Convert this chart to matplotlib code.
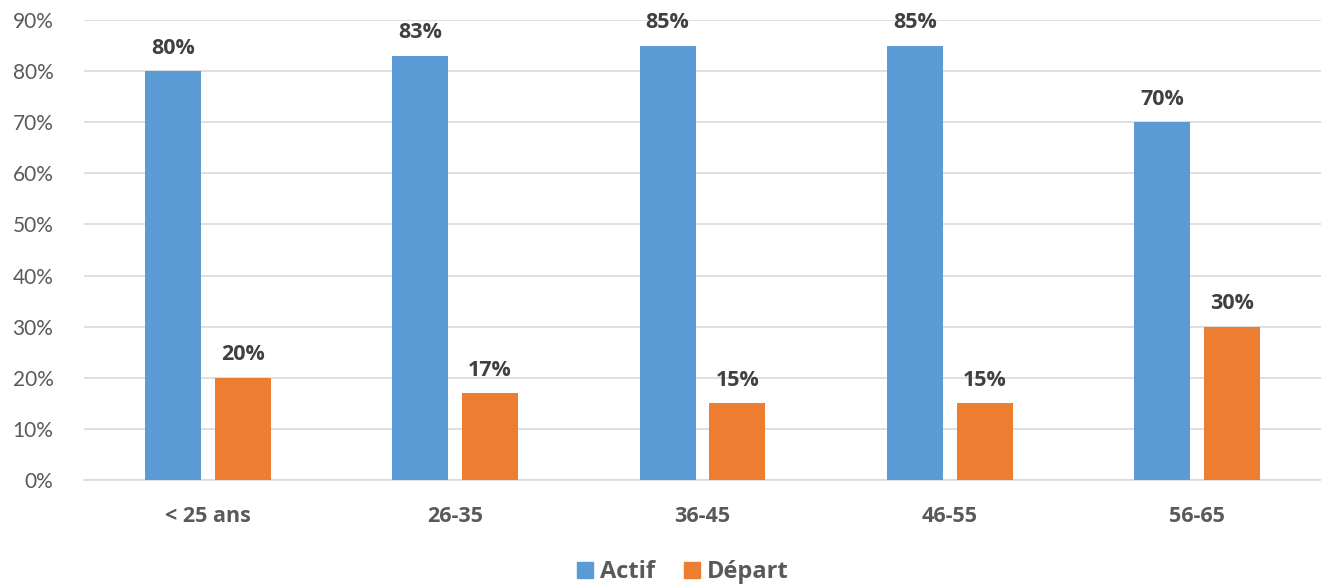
import matplotlib
matplotlib.use("Agg")
import matplotlib.pyplot as plt
import numpy as np
from matplotlib.patches import Patch

categories = ["< 25 ans", "26-35", "36-45", "46-55", "56-65"]
actif = [80, 83, 85, 85, 70]
depart = [20, 17, 15, 15, 30]
series_names = ["Actif", "Départ"]
yticks = [0, 10, 20, 30, 40, 50, 60, 70, 80, 90]

plt.rcParams['font.family'] = ['Lato', 'DejaVu Sans']
bold_family = ['Open Sans', 'DejaVu Sans']

fig = plt.figure(figsize=(13.21, 5.85), dpi=100)
ax = fig.add_axes([0.0636, 0.1795, 0.9364, 0.7863])

blue = "#5B9BD5"
orange = "#ED7D31"
x = np.arange(len(categories))
w = 0.226
off = 0.141
b1 = ax.bar(x - off, actif, w, color=blue, zorder=3)
b2 = ax.bar(x + off, depart, w, color=orange, zorder=3)

for bars, vals in ((b1, actif), (b2, depart)):
    for r, v in zip(bars, vals):
        ax.annotate(f"{v}%", (r.get_x() + r.get_width() / 2, v), xytext=(0, 9),
                    textcoords="offset points", ha="center", va="bottom",
                    fontsize=15.5, fontweight="bold", color="#404040",
                    family=bold_family)

ax.set_xlim(-0.5, len(categories) - 0.5)
ax.set_ylim(0, 90)
ax.set_yticks(yticks)
ax.set_yticklabels([f"{t}%" for t in yticks], fontsize=15, color="#595959")
ax.set_xticks(x)
ax.set_xticklabels(categories, fontsize=15.5, fontweight="bold", color="#595959",
                   family=bold_family)
ax.tick_params(axis="both", length=0)
ax.tick_params(axis="y", pad=22)
ax.tick_params(axis="x", pad=19)
ax.grid(axis="y", color="#D9D9D9", linewidth=1.2, zorder=0)
for s in ["top", "right", "left"]:
    ax.spines[s].set_visible(False)
ax.spines["bottom"].set_color("#D9D9D9")
ax.spines["bottom"].set_linewidth(1.2)

handles = [Patch(color=blue), Patch(color=orange)]
leg = fig.legend(handles, series_names, loc="center", bbox_to_anchor=(0.517, 0.022),
                 ncol=2, frameon=False, handlelength=0.7, handleheight=0.7,
                 handletextpad=0.3, columnspacing=1.2,
                 prop={"size": 17, "weight": "bold", "family": bold_family})
for t in leg.get_texts():
    t.set_color("#595959")

fig.savefig("out.png", dpi=100)
